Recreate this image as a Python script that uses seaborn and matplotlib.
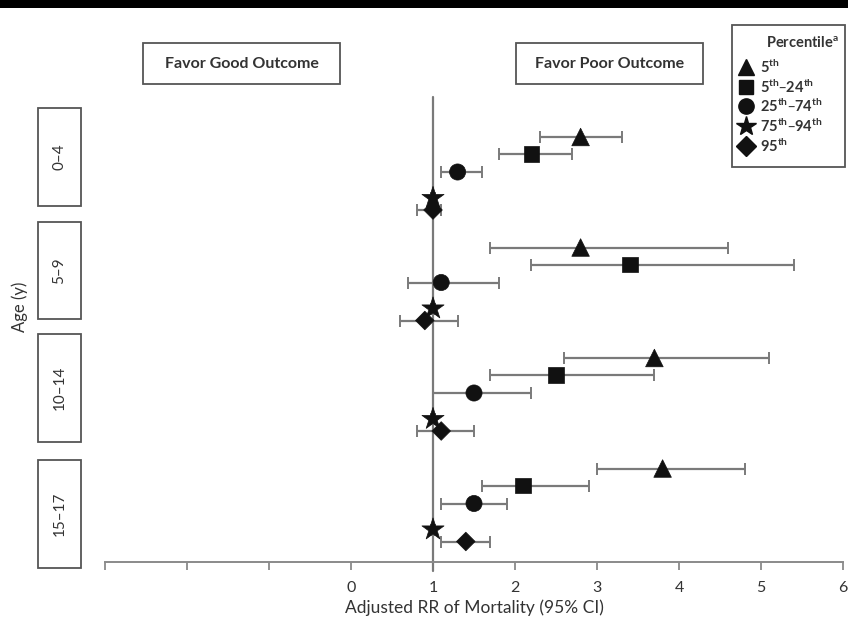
import matplotlib
matplotlib.use("Agg")
import matplotlib.pyplot as plt
from matplotlib.patches import Rectangle
from matplotlib.lines import Line2D
import seaborn as sns
import pandas as pd
import numpy as np

# ---------------- data ----------------
ages = ["0–4", "5–9", "10–14", "15–17"]
percentiles = ["5th", "5th–24th", "25th–74th", "75th–94th", "95th"]
legend_labels = ["5$^{th}$", "5$^{th}$–24$^{th}$", "25$^{th}$–74$^{th}$",
                 "75$^{th}$–94$^{th}$", "95$^{th}$"]

rr_p5 = [2.8, 2.8, 3.7, 3.8]
lo_p5 = [2.3, 1.7, 2.6, 3.0]
hi_p5 = [3.3, 4.6, 5.1, 4.8]

rr_p5_24 = [2.2, 3.4, 2.5, 2.1]
lo_p5_24 = [1.8, 2.2, 1.7, 1.6]
hi_p5_24 = [2.7, 5.4, 3.7, 2.9]

rr_p25_74 = [1.3, 1.1, 1.5, 1.5]
lo_p25_74 = [1.1, 0.7, 1.0, 1.1]
hi_p25_74 = [1.6, 1.8, 2.2, 1.9]

rr_p75_94 = [1.0, 1.0, 1.0, 1.0]
lo_p75_94 = [0.98, 0.98, 0.98, 0.98]
hi_p75_94 = [1.02, 1.02, 1.02, 1.02]

rr_p95 = [1.0, 0.9, 1.1, 1.4]
lo_p95 = [0.8, 0.6, 0.8, 1.1]
hi_p95 = [1.1, 1.3, 1.5, 1.7]

x_ticks = [-3, -2, -1, 0, 1, 2, 3, 4, 5, 6]
x_ticklabels = ["", "", "", "0", "1", "2", "3", "4", "5", "6"]

# ---------------- style ----------------
sns.set_theme(style="white")
plt.rcParams["font.family"] = ["Lato", "DejaVu Sans"]
plt.rcParams["mathtext.default"] = "regular"

W, H = 848, 623
fig = plt.figure(figsize=(W / 100, H / 100), dpi=100)
fig.patch.set_facecolor("white")

def fx(px):
    return px / W

def fy(py):
    return 1 - py / H

# axes placement (pixel based)
ax_left, ax_right, ax_top, ax_bottom = 105, 843, 92, 562
ax = fig.add_axes([fx(ax_left), fy(ax_bottom), fx(ax_right) - fx(ax_left),
                   fy(ax_top) - fy(ax_bottom)])

# build long table
series = [
    (rr_p5, lo_p5, hi_p5),
    (rr_p5_24, lo_p5_24, hi_p5_24),
    (rr_p25_74, lo_p25_74, hi_p25_74),
    (rr_p75_94, lo_p75_94, hi_p75_94),
    (rr_p95, lo_p95, hi_p95),
]
row_offsets = [0, 17, 35, 61, 73]
group_base = 137
group_step = 110.5

rows = []
for si, (rr, lo, hi) in enumerate(series):
    for gi, age in enumerate(ages):
        rows.append(dict(age=age, percentile=percentiles[si], rr=rr[gi],
                         lo=lo[gi], hi=hi[gi],
                         ypos=group_base + group_step * gi + row_offsets[si]))
df = pd.DataFrame(rows)

# error bars
ax.errorbar(df["rr"], df["ypos"],
            xerr=[df["rr"] - df["lo"], df["hi"] - df["rr"]],
            fmt="none", ecolor="#7a7a7a", elinewidth=1.6, capsize=4,
            capthick=1.4, zorder=2)

marker_map = dict(zip(percentiles, ["^", "s", "o", "*", "D"]))
size_map = dict(zip(percentiles, [160, 125, 135, 280, 90]))
sns.scatterplot(data=df, x="rr", y="ypos", style="percentile",
                markers=marker_map, size="percentile", sizes=size_map,
                color="#111111", edgecolor="#111111", linewidth=0.5,
                legend=False, ax=ax, zorder=3)

# reference line at 1
ax.plot([1, 1], [97, 571], color="#7a7a7a", lw=1.6, clip_on=False, zorder=1)

ax.set_xlim(-3, 6)
ax.set_ylim(ax_bottom, ax_top)
ax.set_xticks(x_ticks)
ax.set_xticklabels(x_ticklabels)
ax.set_yticks([])
ax.set_ylabel("")
ax.set_xlabel("Adjusted RR of Mortality (95% CI)", fontsize=12.5,
              color="#333333", labelpad=3)
for s in ["top", "right", "left"]:
    ax.spines[s].set_visible(False)
ax.spines["bottom"].set_color("#8a8a8a")
ax.spines["bottom"].set_linewidth(1.4)
ax.tick_params(axis="x", bottom=True, direction="out", length=6, width=1.3,
               color="#8a8a8a", labelsize=11.5, labelcolor="#333333", pad=8)
ax.patch.set_alpha(0)

# ---------------- boxes ----------------
def box(x0, y0, x1, y1, lw=1.3, ec="#555555"):
    r = Rectangle((fx(x0), fy(y1)), fx(x1) - fx(x0), fy(y0) - fy(y1),
                  transform=fig.transFigure, fill=False, ec=ec, lw=lw)
    fig.add_artist(r)

# top black strip
fig.add_artist(Rectangle((0, fy(8)), 1, fy(0) - fy(8), transform=fig.transFigure,
                         color="black", lw=0))

# favor boxes
box(143, 43, 340, 84)
fig.text(fx(242), fy(63.5), "Favor Good Outcome", ha="center", va="center",
         fontsize=11.5, fontweight="bold", color="#333333")
box(516, 43, 703, 84)
fig.text(fx(610), fy(63.5), "Favor Poor Outcome", ha="center", va="center",
         fontsize=11.5, fontweight="bold", color="#333333")

# age boxes
age_boxes = [(108, 206), (222, 319), (334, 442), (460, 568)]
for age, (y0, y1) in zip(ages, age_boxes):
    box(38, y0, 81, y1)
    fig.text(fx(59.5), fy((y0 + y1) / 2), age, ha="center", va="center",
             rotation=90, fontsize=11, color="#333333")
fig.text(fx(20), fy(307), "Age (y)", ha="center", va="center", rotation=90,
         fontsize=12, color="#333333")

# legend box
box(732, 25, 845, 167)
fig.text(fx(766), fy(43), "Percentile$^{a}$", ha="left", va="center",
         fontsize=10.5, fontweight="bold", color="#333333")
leg_y = [67, 87, 106, 126, 146]
leg_ms = [12, 10, 11, 15, 10]
for i, p in enumerate(percentiles):
    fig.add_artist(Line2D([fx(746)], [fy(leg_y[i])], marker=marker_map[p],
                          markersize=leg_ms[i], color="#111111", lw=0,
                          transform=fig.transFigure))
    fig.text(fx(760), fy(leg_y[i]), legend_labels[i], ha="left", va="center",
             fontsize=10.5, fontweight="bold", color="#333333")

fig.savefig("out.png", dpi=100, facecolor="white")
